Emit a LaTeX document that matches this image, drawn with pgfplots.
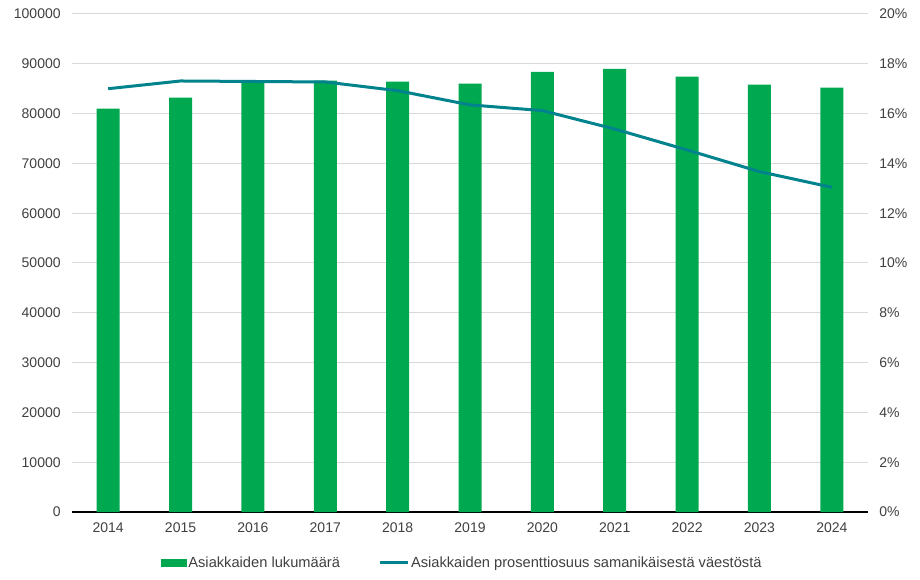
\documentclass[border=0pt]{standalone}
\usepackage{pgfplots}
\pgfplotsset{compat=1.18}
\usepackage{fontspec}
\setmainfont{Liberation Sans}
\definecolor{barg}{HTML}{00A94F}
\definecolor{lineteal}{HTML}{00838C}
\definecolor{gridc}{HTML}{D9D9D9}
\definecolor{txt}{HTML}{404040}

\begin{document}
\begin{tikzpicture}
\useasboundingbox (0pt,0pt) rectangle (690pt,434.25pt);
\pgfplotsset{every axis/.append style={
  at={(54pt,50.25pt)}, anchor=south west,
  scale only axis, width=597pt, height=373.5pt,
  xmin=-0.5, xmax=10.5,
  font=\fontsize{10.5}{12}\selectfont,
  tick label style={text=txt},
  /pgf/number format/assume math mode=true,
  major tick length=0pt,
}}
% bars: number of clients
\begin{axis}[
  ymin=0, ymax=100000,
  ytick={0,10000,...,100000},
  scaled y ticks=false,
  yticklabel={\pgfmathprintnumber[fixed,precision=0,1000 sep={}]{\tick}},
  ymajorgrids, grid style={gridc, line width=0.75pt},
  axis x line*=bottom, axis y line*=left,
  y axis line style={draw=none},
  x axis line style={black, line width=1pt},
  xtick=data,
  xticklabels={2014,2015,2016,2017,2018,2019,2020,2021,2022,2023,2024},
  xticklabel style={yshift=-4.5pt},
  yticklabel style={xshift=-5pt},
]
\addplot[ybar, bar width=17.25pt, fill=barg, draw=none] coordinates {
  (0,81000) (1,83200) (2,86300) (3,86600) (4,86400) (5,86000)
  (6,88400) (7,89000) (8,87400) (9,85800) (10,85200)
};
\end{axis}
% line: share of same-age population
\begin{axis}[
  ymin=0, ymax=20,
  ytick={0,2,...,20},
  yticklabel={\pgfmathprintnumber[fixed,precision=0]{\tick}\%},
  axis x line=none, axis y line*=right,
  y axis line style={draw=none},
  yticklabel style={xshift=5pt},
  legend style={at={(0.49,-0.102)}, anchor=center, draw=none,
    legend columns=2, font=\fontsize{11}{13}\selectfont,
    nodes={inner sep=1.5pt, text=txt},
    /tikz/every even column/.append style={column sep=27pt}},
]
\addlegendimage{legend image code/.code={\fill[barg] (0pt,-2.9pt) rectangle (19pt,2.9pt);}}
\addlegendentry{Asiakkaiden lukumäärä}
\addplot[lineteal, line width=2.25pt, line join=round,
  legend image code/.code={\draw[lineteal, line width=2.25pt] (0pt,0pt) -- (21pt,0pt);}]
  coordinates {
  (0,17.00) (1,17.31) (2,17.29) (3,17.27) (4,16.92) (5,16.35)
  (6,16.12) (7,15.38) (8,14.54) (9,13.67) (10,13.04)
};
\addlegendentry{Asiakkaiden prosenttiosuus samanikäisestä väestöstä}
\end{axis}
\end{tikzpicture}
\end{document}
